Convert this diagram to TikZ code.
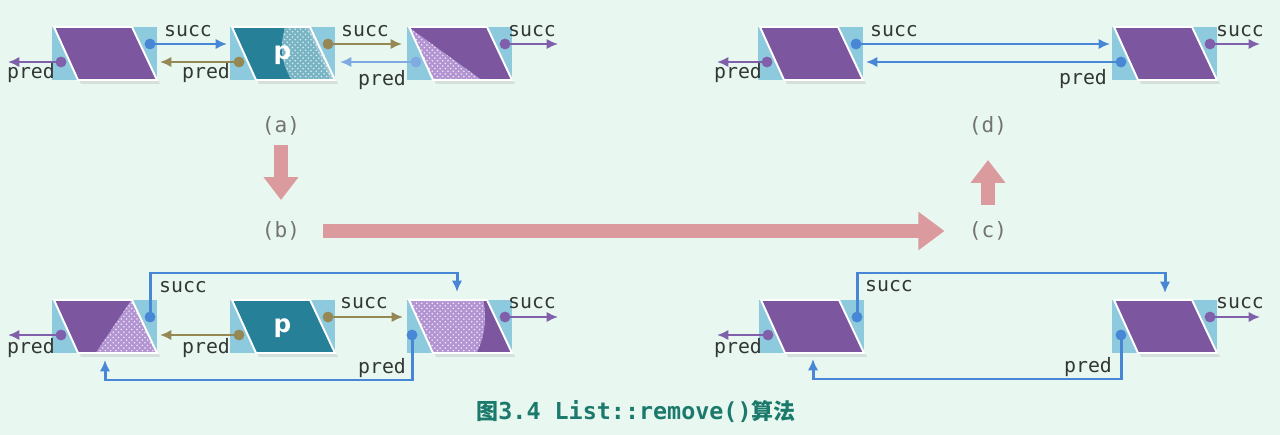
\documentclass[tikz,border=0pt]{standalone}
\usepackage{fontspec}
\setmainfont{DejaVu Sans}
\newfontfamily\lblfont{DejaVu Sans Mono}
\newfontfamily\cjkfont{Noto Sans CJK SC}
\usetikzlibrary{calc,arrows.meta,patterns}

\definecolor{bgc}{RGB}{232,248,241}
\definecolor{lblue}{RGB}{142,202,222}
\definecolor{purp}{RGB}{124,86,158}
\definecolor{speckp}{RGB}{178,148,210}
\definecolor{tealn}{RGB}{38,128,152}
\definecolor{speckt}{RGB}{120,180,196}
\definecolor{bluec}{RGB}{72,134,214}
\definecolor{purc}{RGB}{128,96,170}
\definecolor{olivec}{RGB}{150,136,84}
\definecolor{pinkc}{RGB}{219,154,157}
\definecolor{txtc}{RGB}{50,55,52}
\definecolor{grayt}{RGB}{115,115,115}
\definecolor{capc}{RGB}{27,122,107}

\tikzset{
  nbox/.style={rectangle,minimum width=2.1cm,minimum height=1.06cm,inner sep=0pt,outer sep=0pt},
  lbfill/.style={fill=lblue},
  shadowc/.style={fill=black!30,opacity=0.35},
  paraedge/.style={draw=white,line width=1.1pt,line join=miter},
  speckP/.style={fill=speckp,postaction={pattern=crosshatch dots,pattern color=white!80!speckp}},
  speckT/.style={fill=speckt,postaction={pattern=crosshatch dots,pattern color=white!75!speckt}},
  conn/.style={line width=1.7pt,-{Latex[length=6.5pt,width=6pt]}},
  cB/.style={conn,draw=bluec},
  cP/.style={conn,draw=purc},
  cO/.style={conn,draw=olivec},
  lab/.style={font=\lblfont\fontsize{11.3}{12}\selectfont,text=txtc,inner sep=0pt},
  stage/.style={font=\lblfont\fontsize{12}{12}\selectfont,text=grayt,inner sep=0pt},
  bigarrow/.style={draw=pinkc,line width=7.5pt,-{Triangle[length=13pt,width=19pt]}},
  ptext/.style={font=\bfseries\fontsize{14}{14}\selectfont,text=white,inner sep=0pt}
}

\newcommand\dotr{3.1pt}

% #1 name, #2 x0, #3 y0, #4 fill colour, #5 extra clipped drawing
\newcommand\listnode[5]{%
  \node[nbox] (#1) at (#2+52.5,#3+26.5) {};
  \fill[lbfill] (#1.north west) rectangle (#1.south east);
  \fill[shadowc] ($(#1.north west)+(5,4)$) -- ($(#1.north west)+(83,4)$) -- ($(#1.south east)+(3,4)$) -- ($(#1.south west)+(29,4)$) -- cycle;
  \path[fill=#4] ($(#1.north west)+(2,0)$) coordinate (#1-tl) -- ($(#1.north west)+(80,0)$) coordinate (#1-tr) -- (#1.south east) coordinate (#1-br) -- ($(#1.south west)+(26,0)$) coordinate (#1-bl) -- cycle;
  \begin{scope}
    \clip (#1-tl) -- (#1-tr) -- (#1-br) -- (#1-bl) -- cycle;
    #5
  \end{scope}
  \draw[paraedge] (#1-tl) -- (#1-tr) -- (#1-br) -- (#1-bl) -- cycle;
  \coordinate (#1s) at ($(#1.north west)+(98,17)$);
  \coordinate (#1p) at ($(#1.north west)+(9,35)$);
}

\begin{document}
\begin{tikzpicture}[x=0.02cm,y=-0.02cm]
\fill[bgc] (0,0) rectangle (1280,435);
\useasboundingbox (0,0) rectangle (1280,435);

% ---------------- (a) ----------------
\listnode{a1}{52}{27}{purp}{}
\listnode{a2}{230}{27}{tealn}{%
  \fill[speckT] ($(a2.north west)+(56,-2)$) .. controls ($(a2.north west)+(48,20)$) and ($(a2.north west)+(52,40)$) .. ($(a2.north west)+(64,56)$) -- ($(a2.north west)+(110,56)$) -- ($(a2.north west)+(110,-2)$) -- cycle;
  \fill[white,opacity=0.25] ($(a2.north west)+(76,-2)$) -- ($(a2.north west)+(84,-2)$) -- ($(a2.north west)+(110,56)$) -- ($(a2.north west)+(102,56)$) -- cycle;}
\node[ptext] (a2t) at ($(a2.center)+(0,2)$) {p};
\listnode{a3}{407}{27}{purp}{%
  \fill[speckP] ($(a3.north west)+(0,-1)$) -- ($(a3.north west)+(76,54)$) -- ($(a3.north west)+(0,54)$) -- cycle;}

\draw[cP] (a1p) -- ($(a1p)+(-53,0)$) coordinate (a1pe);
\fill[purc] (a1p) circle (\dotr);
\draw[cB] (a1s) -- ($(a1s -| a2.west)+(-3,0)$);
\fill[bluec] (a1s) circle (\dotr);
\draw[cO] (a2p) -- ($(a2p -| a1.east)+(3,0)$);
\fill[olivec] (a2p) circle (\dotr);
\draw[cO] (a2s) -- ($(a2s -| a3.west)+(-5,0)$);
\fill[olivec] (a2s) circle (\dotr);
\draw[cB,draw=bluec!70] (a3p) -- ($(a3p -| a2.east)+(5,0)$);
\fill[bluec!70] (a3p) circle (\dotr);
\draw[cP] (a3s) -- ($(a3s)+(53,0)$) coordinate (a3se);
\fill[purc] (a3s) circle (\dotr);

\node[lab] (la1p) at (31,73) {pred};
\node[lab] (la1s) at (188,31) {succ};
\node[lab] (la2p) at (206,73) {pred};
\node[lab] (la2s) at (365,31) {succ};
\node[lab] (la3p) at (382,80) {pred};
\node[lab] (la3s) at (532,31) {succ};

% ---------------- (d) ----------------
\listnode{d1}{758}{27}{purp}{}
\listnode{d2}{1112}{27}{purp}{}
\draw[cP] (d1p) -- ($(d1p)+(-50,0)$) coordinate (d1pe);
\fill[purc] (d1p) circle (\dotr);
\draw[cB] (d1s) -- ($(d1s -| d2.west)+(-2,0)$);
\fill[bluec] (d1s) circle (\dotr);
\draw[cB] (d2p) -- ($(d2p -| d1.east)+(3,0)$);
\fill[bluec] (d2p) circle (\dotr);
\draw[cP] (d2s) -- ($(d2s)+(50,0)$) coordinate (d2se);
\fill[purc] (d2s) circle (\dotr);

\node[lab] (ld1p) at (738,73) {pred};
\node[lab] (ld1s) at (894,31) {succ};
\node[lab] (ld2p) at (1083,79) {pred};
\node[lab] (ld2s) at (1240,31) {succ};

% ---------------- (b) ----------------
\listnode{b1}{52}{300}{purp}{%
  \fill[speckP] ($(b1.north west)+(80,-1)$) -- ($(b1.north west)+(108,54)$) -- ($(b1.north west)+(43,54)$) -- cycle;}
\listnode{b2}{230}{300}{tealn}{}
\node[ptext] (b2t) at ($(b2.center)+(0,2)$) {p};
\listnode{b3}{407}{300}{purp}{%
  \fill[speckP] ($(b3.north west)+(-2,-2)$) -- ($(b3.north west)+(76,-2)$) .. controls ($(b3.north west)+(80,18)$) and ($(b3.north west)+(78,38)$) .. ($(b3.north west)+(68,56)$) -- ($(b3.north west)+(-2,56)$) -- cycle;}

\coordinate (b3t) at ($(b3.north west)+(50,-8)$);
\coordinate (b3up) at ($(b3.north)+(0,-27)$);
\coordinate (b1b) at ($(b1.south west)+(53,7)$);
\coordinate (b1low) at ($(b1.south)+(0,27)$);

\draw[cP] (b1p) -- ($(b1p)+(-53,0)$) coordinate (b1pe);
\fill[purc] (b1p) circle (\dotr);
\draw[cB] (b1s) -- (b1s |- b3up) -| (b3t);
\fill[bluec] (b1s) circle (\dotr);
\draw[cO] (b2p) -- ($(b2p -| b1.east)+(3,0)$);
\fill[olivec] (b2p) circle (\dotr);
\draw[cO] (b2s) -- ($(b2s -| b3.west)+(-4,0)$);
\fill[olivec] (b2s) circle (\dotr);
\draw[cB] ($(b3p)+(-4,0)$) coordinate (b3pp) -- (b3pp |- b1low) -| (b1b);
\fill[bluec] (b3pp) circle (\dotr);
\draw[cP] (b3s) -- ($(b3s)+(53,0)$) coordinate (b3se);
\fill[purc] (b3s) circle (\dotr);

\node[lab] (lb1p) at (31,348) {pred};
\node[lab] (lb1s) at (183,287) {succ};
\node[lab] (lb2p) at (206,348) {pred};
\node[lab] (lb2s) at (364,303) {succ};
\node[lab] (lb3p) at (382,368) {pred};
\node[lab] (lb3s) at (532,303) {succ};

% ---------------- (c) ----------------
\listnode{c1}{759}{300}{purp}{}
\listnode{c2}{1112}{300}{purp}{}
\coordinate (c2t) at ($(c2.north west)+(53,-7)$);
\coordinate (c2up) at ($(c2.north)+(0,-27)$);
\coordinate (c1b) at ($(c1.south west)+(54,6)$);
\coordinate (c1low) at ($(c1.south)+(0,26)$);

\draw[cP] (c1p) -- ($(c1p)+(-51,0)$) coordinate (c1pe);
\fill[purc] (c1p) circle (\dotr);
\draw[cB] (c1s) -- (c1s |- c2up) -| (c2t);
\fill[bluec] (c1s) circle (\dotr);
\draw[cB] (c2p) -- (c2p |- c1low) -| (c1b);
\fill[bluec] (c2p) circle (\dotr);
\draw[cP] (c2s) -- ($(c2s)+(50,0)$) coordinate (c2se);
\fill[purc] (c2s) circle (\dotr);

\node[lab] (lc1p) at (738,348) {pred};
\node[lab] (lc1s) at (889,286) {succ};
\node[lab] (lc2p) at (1088,367) {pred};
\node[lab] (lc2s) at (1240,303) {succ};

% ---------------- stage labels & big arrows ----------------
\node[stage] (sa) at (281,126) {(a)};
\node[stage] (sb) at (281,231) {(b)};
\node[stage] (sc) at (988,231) {(c)};
\node[stage] (sd) at (988,126) {(d)};
\draw[bigarrow] ($(sa)+(0,19)$) -- ($(sb)+(0,-31)$);
\draw[bigarrow,-{Triangle[length=15pt,width=21pt]}] ($(sb.east)+(23,0)$) -- ($(sc.west)+(-24,0)$);
\draw[bigarrow] ($(sc)+(0,-26)$) -- ($(sd)+(0,34)$);

% ---------------- caption ----------------
\node[text=capc,inner sep=0pt] (cap) at (636,412) {{\cjkfont\bfseries\fontsize{12.5}{12}\selectfont 图}{\lblfont\bfseries\fontsize{13.3}{13}\selectfont 3.4 List::remove()}{\cjkfont\bfseries\fontsize{12.5}{12}\selectfont 算法}};
\end{tikzpicture}
\end{document}
